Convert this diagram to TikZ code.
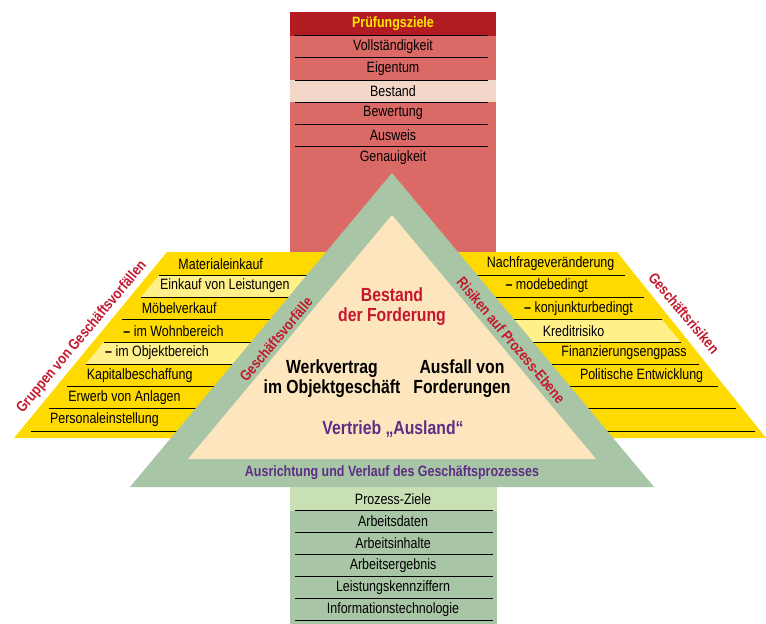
\documentclass[tikz,border=0pt]{standalone}
\usepackage{fontspec}
\setmainfont{Liberation Sans}[FakeStretch=0.83]

\definecolor{hdrred}{HTML}{B31B22}
\definecolor{boxred}{HTML}{DB6A66}
\definecolor{palerose}{HTML}{F2D7C9}
\definecolor{hdryellow}{HTML}{FFE600}
\definecolor{gold}{HTML}{FFDA00}
\definecolor{lightgold}{HTML}{FFF08A}
\definecolor{sage}{HTML}{A8C6A5}
\definecolor{palesage}{HTML}{C8E0B4}
\definecolor{cream}{HTML}{FDE6BE}
\definecolor{labelred}{HTML}{C4172D}
\definecolor{violet}{HTML}{5E2D86}

\tikzset{
  rowtext/.style={font=\fontsize{15}{17}\selectfont, inner sep=0pt},
  rowline/.style={black, line width=0.8pt},
  bandlabel/.style={font=\bfseries\fontsize{15}{17}\selectfont, inner sep=0pt},
  bigtext/.style={font=\bfseries\fontsize{19}{20}\selectfont, align=center, inner sep=0pt},
}

\begin{document}
\begin{tikzpicture}[x=1pt, y=-1pt]
\useasboundingbox (0,0) rectangle (766,624);

% Pruefungsziele
\fill[boxred] (290,12) rectangle (496,252);
\fill[hdrred] (290,12) rectangle (496,35.5);
\fill[palerose] (290,80) rectangle (496,102.3);
\node[bandlabel, text=hdryellow] (ziele) at (393,23.7) {Prüfungsziele};
\foreach \txt [count=\i from 0] in {Vollständigkeit, Eigentum, Bestand, Bewertung, Ausweis, Genauigkeit}
  \node[rowtext] (pz\i) at (393,{46.6+22.25*\i}) {\txt};
\foreach \y in {35.5,57.7,80,102.3,124.5,146.7}
  \draw[rowline] (295,\y) -- (488,\y);

% Geschaeftsvorfaelle (links)
\fill[gold] (167,252) -- (392,252) -- (392,438) -- (14,438) -- cycle;
\foreach \k in {1,4} {
  \pgfmathsetmacro\ya{275+22.3*(\k-1)}
  \pgfmathsetmacro\yb{275+22.3*\k}
  \fill[lightgold] ({159-0.8226*(\ya-275)},\ya) -- (392,\ya) -- (392,\yb) -- ({159-0.8226*(\yb-275)},\yb) -- cycle;
}
\foreach \j in {0,...,7} {
  \pgfmathsetmacro\yy{275+22.3*\j}
  \draw[rowline] ({159-0.8226*(\yy-275)},\yy) -- (392,\yy);
}
\foreach \txt [count=\k from 0] in {Materialeinkauf, Einkauf von Leistungen, Möbelverkauf,
    {{\bfseries –} im Wohnbereich}, {{\bfseries –} im Objektbereich}, Kapitalbeschaffung,
    Erwerb von Anlagen, Personaleinstellung} {
  \pgfmathsetmacro\yc{263.8+22.3*\k}
  \node[rowtext, anchor=west] (gv\k) at ({167-0.8226*(\yc-252)+21},\yc) {\txt};
}

% Geschaeftsrisiken (rechts)
\fill[gold] (392,252) -- (617,252) -- (766,438) -- (392,438) -- cycle;
\pgfmathsetmacro\ya{275+22.3*2}
\pgfmathsetmacro\yb{275+22.3*3}
\fill[lightgold] (392,\ya) -- ({625+0.83*(\ya-275)},\ya) -- ({625+0.83*(\yb-275)},\yb) -- (392,\yb) -- cycle;
\foreach \j in {0,...,7} {
  \pgfmathsetmacro\yy{275+22.3*\j}
  \draw[rowline] (392,\yy) -- ({625+0.83*(\yy-275)},\yy);
}
\foreach \txt [count=\k from 0] in {Nachfrageveränderung, {{\bfseries –} modebedingt},
    {{\bfseries –} konjunkturbedingt}, Kreditrisiko, Finanzierungsengpass, Politische Entwicklung} {
  \pgfmathsetmacro\yc{263.8+22.3*\k}
  \node[rowtext, anchor=west] (gr\k) at ({392+0.8344*(\yc-173)+19},\yc) {\txt};
}

% Prozess-Ziele (unten)
\fill[sage] (290,487) rectangle (497,624);
\fill[palesage] (290,487) rectangle (497,510.7);
\foreach \txt [count=\i from 0] in {Prozess-Ziele, Arbeitsdaten, Arbeitsinhalte, Arbeitsergebnis,
    Leistungskennziffern, Informationstechnologie}
  \node[rowtext] (pr\i) at (393,{499+22.1*\i}) {\txt};
\foreach \y in {510.7,532.3,554,576.7,598.3,620.7}
  \draw[rowline] (295,\y) -- (493,\y);

% Dreieck
\fill[sage] (392,173) -- (130,487) -- (654,487) -- cycle;
\fill[cream] (392,215) -- (188,459) -- (596,459) -- cycle;

\node[bandlabel, text=labelred, rotate=50] (gruppen) at (82,337) {Gruppen von Geschäftsvorfällen};
\node[bandlabel, text=labelred, rotate=-50] (risiken) at (684,313) {Geschäftsrisiken};
\node[bandlabel, text=labelred, rotate=50] (vorfaelle) at (276,339) {Geschäftsvorfälle};
\node[bandlabel, text=labelred, rotate=-50] (ebene) at (511,340) {Risiken auf Prozess-Ebene};
\node[bandlabel, text=violet] (verlauf) at (392,473) {Ausrichtung und Verlauf des Geschäftsprozesses};

\node[bigtext, text=labelred] (bestand) at (392,307) {Bestand\\der Forderung};
\node[bigtext] (werk) at (332,379) {Werkvertrag\\im Objektgeschäft};
\node[bigtext] (ausfall) at (462,379) {Ausfall von\\Forderungen};
\node[bigtext, text=violet] (vertrieb) at (393,429) {Vertrieb „Ausland“};
\end{tikzpicture}
\end{document}
